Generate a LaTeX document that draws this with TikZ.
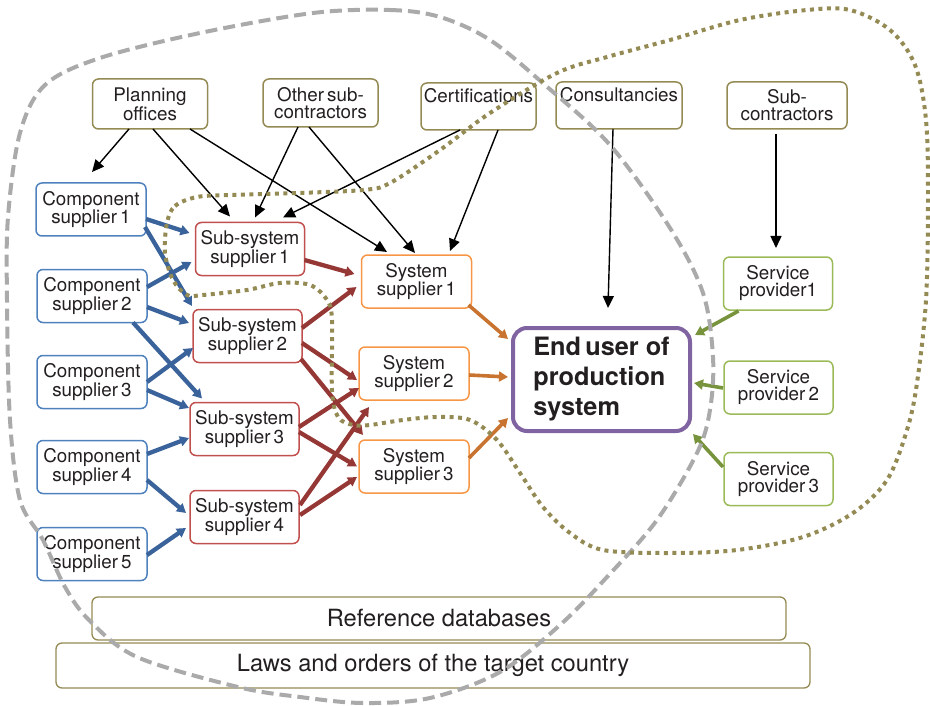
\documentclass[tikz,border=0pt]{standalone}
\usepackage{fontspec}
\setmainfont{TeX Gyre Heros}
\usetikzlibrary{arrows.meta,calc}

\definecolor{kOlive}{RGB}{148,138,84}
\definecolor{kBlue}{RGB}{79,129,189}
\definecolor{kBlueArr}{RGB}{58,99,155}
\definecolor{kRed}{RGB}{192,80,77}
\definecolor{kRedArr}{RGB}{149,55,53}
\definecolor{kOrange}{RGB}{247,150,70}
\definecolor{kOrangeArr}{RGB}{200,116,48}
\definecolor{kPurple}{RGB}{128,100,162}
\definecolor{kGreen}{RGB}{155,187,89}
\definecolor{kGreenArr}{RGB}{119,147,60}
\definecolor{kGray}{RGB}{170,170,170}
\definecolor{kText}{RGB}{35,31,32}

\tikzset{
  box/.style={draw, rounded corners=6pt, line width=1.5pt, align=center,
    inner sep=0pt, outer sep=0pt, text=kText,
    font=\fontsize{18.8}{17}\selectfont},
  olivebox/.style={box, draw=kOlive},
  bluebox/.style={box, draw=kBlue, minimum width=110pt, minimum height=53pt},
  redbox/.style={box, draw=kRed, minimum width=109pt, minimum height=53pt},
  orangebox/.style={box, draw=kOrange, minimum width=110pt, minimum height=53pt},
  greenbox/.style={box, draw=kGreen, minimum width=109pt, minimum height=53pt},
  basebox/.style={box, draw=kOlive, line width=1.3pt, font=\fontsize{23.7}{25}\selectfont},
  blk/.style={line width=1.4pt, -{Triangle[length=12pt,width=11pt]}},
  thickarr/.style={line width=4.3pt, -{Triangle[length=9pt,width=10pt]}},
  bluearr/.style={thickarr, color=kBlueArr},
  redarr/.style={thickarr, color=kRedArr},
  orangearr/.style={thickarr, color=kOrangeArr, line width=3.6pt},
  greenarr/.style={thickarr, color=kGreenArr, line width=3.6pt},
  regionA/.style={draw=kGray, line width=4pt, dash pattern=on 12pt off 6pt},
  regionB/.style={draw=kOlive, line width=4pt, dash pattern=on 4pt off 4.5pt},
}

\begin{document}
\begin{tikzpicture}[x=1pt, y=-1pt]
\useasboundingbox (0,0) rectangle (930,706);

% outside influences
\node[olivebox, minimum width=115pt, minimum height=50pt] (plan) at (150,104) {Planning\\offices};
\node[olivebox, minimum width=115pt, minimum height=48pt] (other) at (320.5,103) {Other\,sub-\\contractors};
\node[olivebox, minimum width=115pt, minimum height=47pt] (cert) at (478.5,106.5) {Certifications\\\strut};
\node[olivebox, minimum width=126pt, minimum height=47pt] (consult) at (619,105.5) {Consultancies\\\strut};
\node[olivebox, minimum width=120pt, minimum height=47pt] (subc) at (787,105.5) {Sub-\\contractors};

% component suppliers
\node[bluebox] (c1) at (91,209.5) {Component\\supplier\,1};
\node[bluebox] (c2) at (92,296) {Component\\supplier\,2};
\node[bluebox] (c3) at (92,382) {Component\\supplier\,3};
\node[bluebox] (c4) at (92,467) {Component\\supplier\,4};
\node[bluebox] (c5) at (92,554) {Component\\supplier\,5};

% sub-system suppliers
\node[redbox] (s1) at (250,249) {Sub-system\\supplier\,1};
\node[redbox] (s2) at (247.5,336) {Sub-system\\supplier\,2};
\node[redbox] (s3) at (244.5,429) {Sub-system\\supplier\,3};
\node[redbox] (s4) at (244.5,517) {Sub-system\\supplier\,4};

% system suppliers
\node[orangebox] (y1) at (416.5,281.5) {System\\supplier\,1};
\node[orangebox] (y2) at (414,373.5) {System\\supplier\,2};
\node[orangebox] (y3) at (414,466.5) {System\\supplier\,3};

% end user
\node[box, draw=kPurple, line width=4pt, rounded corners=14pt,
      minimum width=177pt, minimum height=103pt, align=left,
      font=\bfseries\fontsize{25.3}{30}\selectfont] (end) at (601.5,379.5)
      {End\,user of\\production\\system};

% service providers
\node[greenbox] (sp1) at (778,283.5) {Service\\provider1};
\node[greenbox] (sp2) at (778.5,387.5) {Service\\provider\,2};
\node[greenbox] (sp3) at (778.5,479) {Service\\provider\,3};

% common base
\node[basebox, minimum width=694pt, minimum height=43pt] (ref) at (439,618.5) {Reference databases};
\node[basebox, minimum width=754pt, minimum height=45pt] (laws) at (433,665.5) {Laws and orders of the target country};

% influence arrows
\draw[blk] ($(plan.south)+(-21,0)$) -- ($(c1.north)+(1,-11)$);
\draw[blk] ($(plan.south)+(3,0)$) -- ($(s1.north)+(-20,-6)$);
\draw[blk] ($(plan.south)+(40,0)$) -- ($(y1.north)+(-29.5,-3)$);
\draw[blk] ($(other.south)+(-22.5,0)$) -- ($(s1.north)+(5,-5)$);
\draw[blk] ($(other.south)+(-11.5,0)$) -- ($(y1.north)+(-1.5,-2)$);
\draw[blk] ($(cert.south)+(-18.5,0)$) -- ($(s1.north)+(33,-5)$);
\draw[blk] ($(cert.south)+(19.5,0)$) -- ($(y1.north)+(33.5,-4)$);
\draw[blk] ($(consult.south)+(-6,0)$) -- ($(end.north)+(6.5,-20)$);
\draw[blk] ($(subc.south)+(-11,5)$) -- ($(sp1.north)+(-2,-9)$);

% components to sub-systems
\draw[bluearr] ($(c1.east)+(0,9.5)$) -- ($(s1.west)+(-6,-16)$);
\draw[bluearr] ($(c1.east)+(-1,17.5)$) -- ($(s2.west)+(-1,-30)$);
\draw[bluearr] ($(c2.east)+(0,-9)$) -- ($(s1.west)+(-4,13)$);
\draw[bluearr] ($(c2.east)+(0,11)$) -- ($(s2.west)+(-4,-13)$);
\draw[bluearr] ($(c2.south)+(41,0)$) -- ($(s3.north)+(-42.5,-4)$);
\draw[bluearr] ($(c3.east)+(0,0)$) -- ($(s2.west)+(0,12)$);
\draw[bluearr] ($(c3.east)+(0,8)$) -- ($(s3.west)+(-1,-21)$);
\draw[bluearr] ($(c4.east)+(0,-13)$) -- ($(s3.west)+(-1,9)$);
\draw[bluearr] ($(c4.east)+(0,13)$) -- ($(s4.west)+(-4,-4)$);
\draw[bluearr] ($(c5.east)+(0,1)$) -- ($(s4.west)+(-4,11)$);

% sub-systems to systems
\draw[redarr] ($(s1.east)+(0,11)$) -- ($(y1.west)+(-7,-7.5)$);
\draw[redarr] ($(s2.east)+(0,-8)$) -- ($(y1.west)+(-5,5.5)$);
\draw[redarr] ($(s2.east)+(0,7)$) -- ($(y2.west)+(-2,6.5)$);
\draw[redarr] ($(s2.east)+(-1,23)$) -- ($(y3.north)+(-51,-5)$);
\draw[redarr] ($(s3.east)+(0,-2)$) -- ($(y2.west)+(0,14.5)$);
\draw[redarr] ($(s3.east)+(0,3)$) -- ($(y3.west)+(-2,0)$);
\draw[redarr] ($(s4.east)+(1,-12)$) -- ($(y2.south)+(-45,7)$);
\draw[redarr] ($(s4.east)+(1,-2)$) -- ($(y3.west)+(-2,10.5)$);

% systems to end user
\draw[orangearr] ($(y1.east)+(-3,23.5)$) -- ($(end.west)+(-5,-40.5)$);
\draw[orangearr] ($(y2.east)+(0,1.5)$) -- ($(end.west)+(-5,-2.5)$);
\draw[orangearr] ($(y3.east)+(0,-8.5)$) -- ($(end.west)+(-5,38.5)$);

% service providers to end user
\draw[greenarr] ($(sp1.south west)+(15,1)$) -- ($(end.east)+(5,-44.5)$);
\draw[greenarr] ($(sp2.west)+(-1,0.5)$) -- ($(end.east)+(4,3.5)$);
\draw[greenarr] ($(sp3.west)+(-1,-12)$) -- ($(end.east)+(3,54.5)$);

% dashed region
\draw[regionA] plot[smooth cycle, tension=0.55] coordinates {
  (313,13) (390,10) (440,17) (490,40) (545,85) (610,145) (670,228)
  (703,293) (713,357) (710,410) (697,453) (657,520) (607,577) (560,625)
  (500,672) (430,698) (363,703) (300,697) (238,687) (137,657) (89,620)
  (65,587) (43,540) (20,500) (10,420) (7,300) (8,217) (20,133) (45,85)
  (100,58) (200,33)};

% dotted region
\draw[regionB] plot[smooth cycle, tension=0.55] coordinates {
  (167,223) (175,206) (197,197) (230,195) (297,193) (363,190) (390,183)
  (440,150) (490,113) (557,73) (607,57) (670,40) (740,20) (807,10)
  (850,10) (890,30) (915,65) (926,120) (928,200) (926,300) (917,383)
  (907,430) (887,480) (853,513) (803,537) (737,550) (670,553) (603,550)
  (570,533) (543,507) (520,473) (497,440) (470,420) (437,417) (403,420)
  (370,425) (353,425) (338,417) (332,390) (332,320) (327,300) (310,285)
  (280,283) (247,290) (203,295) (187,295) (173,280) (165,253)};
\end{tikzpicture}
\end{document}
